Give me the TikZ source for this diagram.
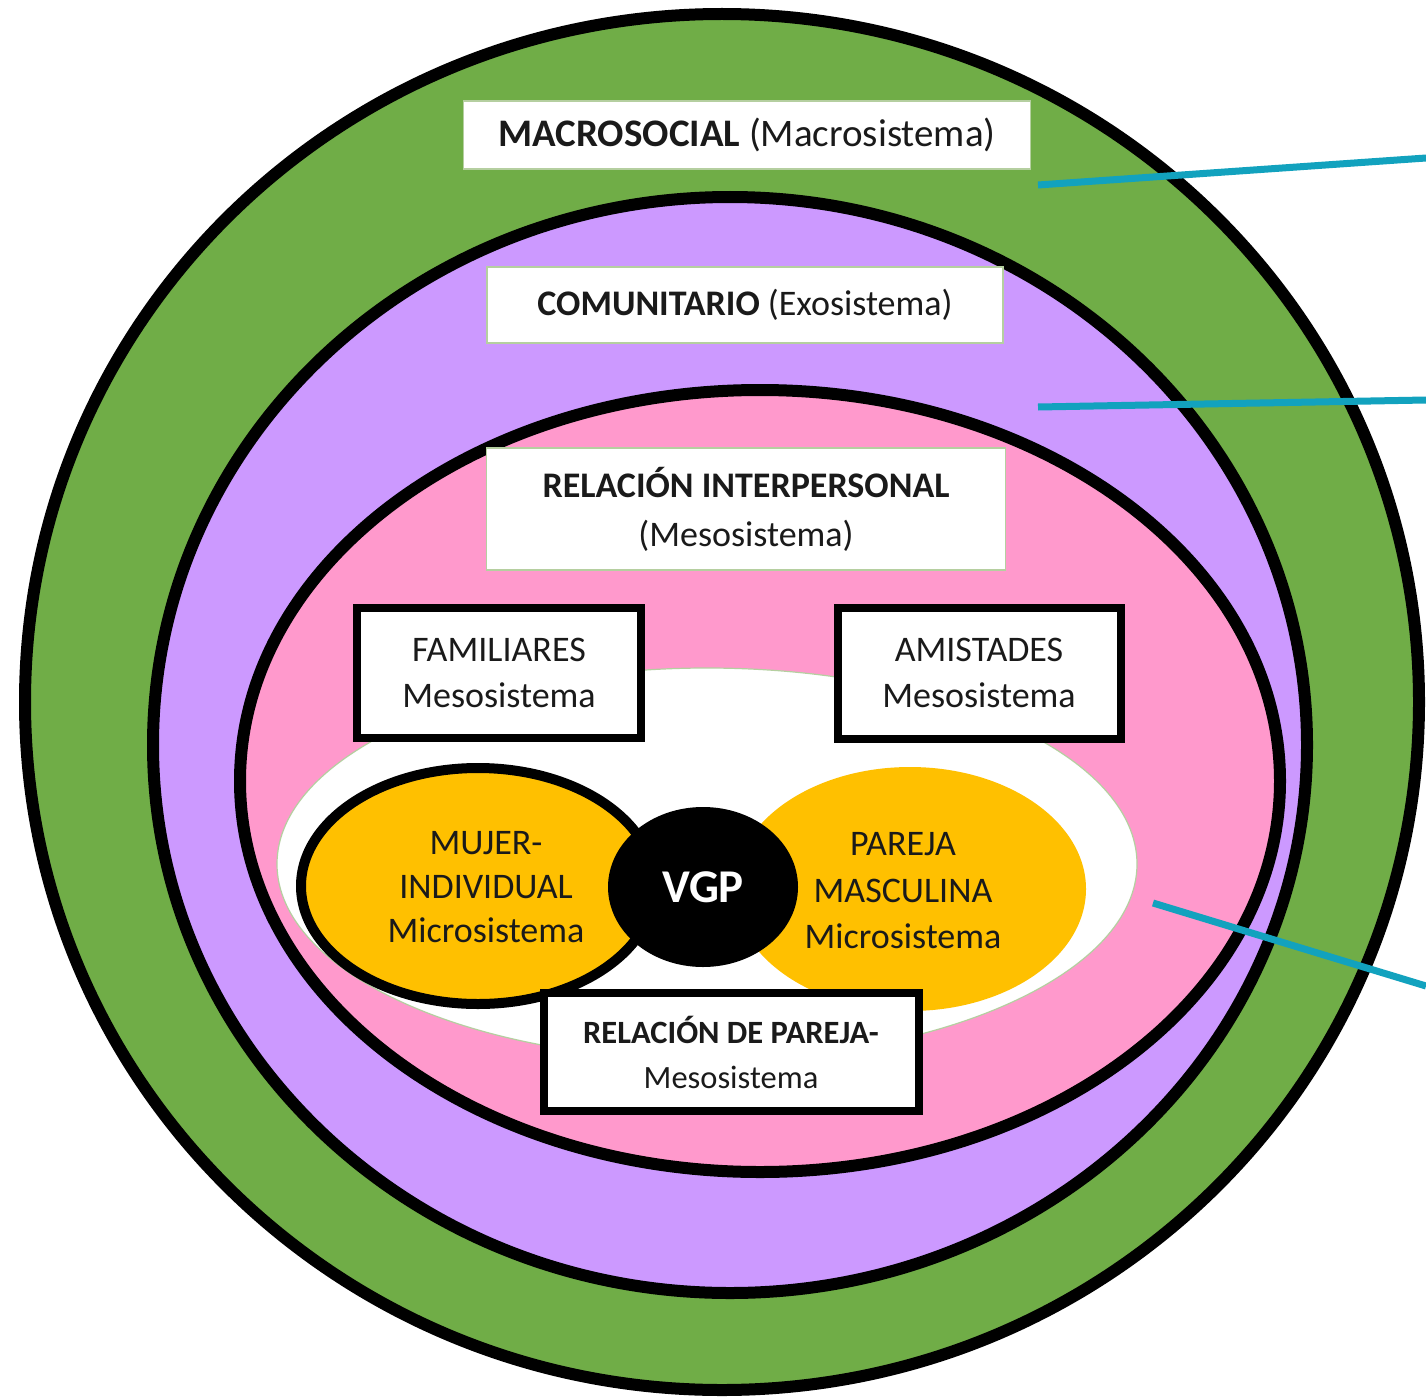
\documentclass[tikz,border=0pt]{standalone}
\usepackage{fontspec}
\setmainfont{Carlito}
\usetikzlibrary{shapes.geometric}
\definecolor{ringgreen}{HTML}{70AD47}
\definecolor{ringpurple}{HTML}{CC99FF}
\definecolor{ringpink}{HTML}{FF99CC}
\definecolor{ringorange}{HTML}{FFC000}
\definecolor{leader}{HTML}{12A2BE}
\definecolor{boxedge}{HTML}{B5CFA0}
\definecolor{txt}{HTML}{1A1A1A}
\begin{document}
\begin{tikzpicture}[x=1pt,y=-1pt,
  ring/.style={draw=black,line width=12pt},
  thinbox/.style={draw=boxedge,line width=1.5pt,fill=white,text=txt,align=center,inner sep=0pt},
  thickbox/.style={draw=black,line width=8pt,fill=white,text=txt,align=center,inner sep=0pt},
  lab/.style={text=txt,align=center,inner sep=0pt},
  leaderline/.style={draw=leader,line width=7pt}
]
\useasboundingbox (0,0) rectangle (1426,1399);
\fill[white] (0,0) rectangle (1426,1399);
% rings
\draw[ring,fill=ringgreen] (722,702) ellipse [x radius=697,y radius=688];
\draw[ring,fill=ringpurple] (730,745) ellipse [x radius=577,y radius=548];
\draw[ring,fill=ringpink] (760,781) ellipse [x radius=520,y radius=391];
\draw[draw=boxedge,line width=1.2pt,fill=white] (707,864) ellipse [x radius=430,y radius=196];
% micro systems
\draw[draw=black,line width=10pt,fill=ringorange] (478,886) ellipse [x radius=177,y radius=118];
\fill[ringorange] (910,889) ellipse [x radius=176,y radius=122];
\node[ellipse,fill=black,minimum width=190pt,minimum height=160pt,inner sep=0pt,text=white,font=\fontsize{47}{50}\selectfont\bfseries] (vgp) at (703,887) {VGP};
\node[lab,font=\fontsize{36}{44}\selectfont] (mujer) at (486,887) {MUJER-\\INDIVIDUAL\\Microsistema};
\node[lab,font=\fontsize{36}{46.5}\selectfont] (pareja) at (903,891) {PAREJA\\MASCULINA\\Microsistema};
% boxes
\node[thinbox,minimum width=567pt,minimum height=68pt,font=\fontsize{39}{44}\selectfont] (macro) at (747,135) {\textbf{MACROSOCIAL} (Macrosistema)};
\node[thinbox,minimum width=516pt,minimum height=76pt,font=\fontsize{36}{44}\selectfont] (comu) at (745,305) {\textbf{COMUNITARIO} (Exosistema)};
\node[thinbox,minimum width=519pt,minimum height=122pt,font=\fontsize{36}{49}\selectfont] (inter) at (746,509) {\textbf{RELACIÓN INTERPERSONAL}\\(Mesosistema)};
\node[thickbox,minimum width=284pt,minimum height=130pt,font=\fontsize{36}{46}\selectfont] (fam) at (499,673) {FAMILIARES\\Mesosistema};
\node[thickbox,minimum width=283pt,minimum height=131pt,font=\fontsize{36}{46}\selectfont] (amis) at (979,673) {AMISTADES\\Mesosistema};
\node[thickbox,minimum width=375pt,minimum height=118pt,font=\fontsize{32.5}{45}\selectfont] (rpar) at (731,1052) {\textbf{RELACIÓN DE PAREJA-}\\Mesosistema};
% leader lines
\coordinate (l1a) at (1038,185);
\coordinate (l1b) at (1426,158);
\coordinate (l2a) at (1038,407);
\coordinate (l2b) at (1426,400);
\coordinate (l3a) at (1153,903);
\coordinate (l3b) at (1426,986);
\draw[leaderline] (l1a) -- (l1b);
\draw[leaderline] (l2a) -- (l2b);
\draw[leaderline] (l3a) -- (l3b);
\end{tikzpicture}
\end{document}
